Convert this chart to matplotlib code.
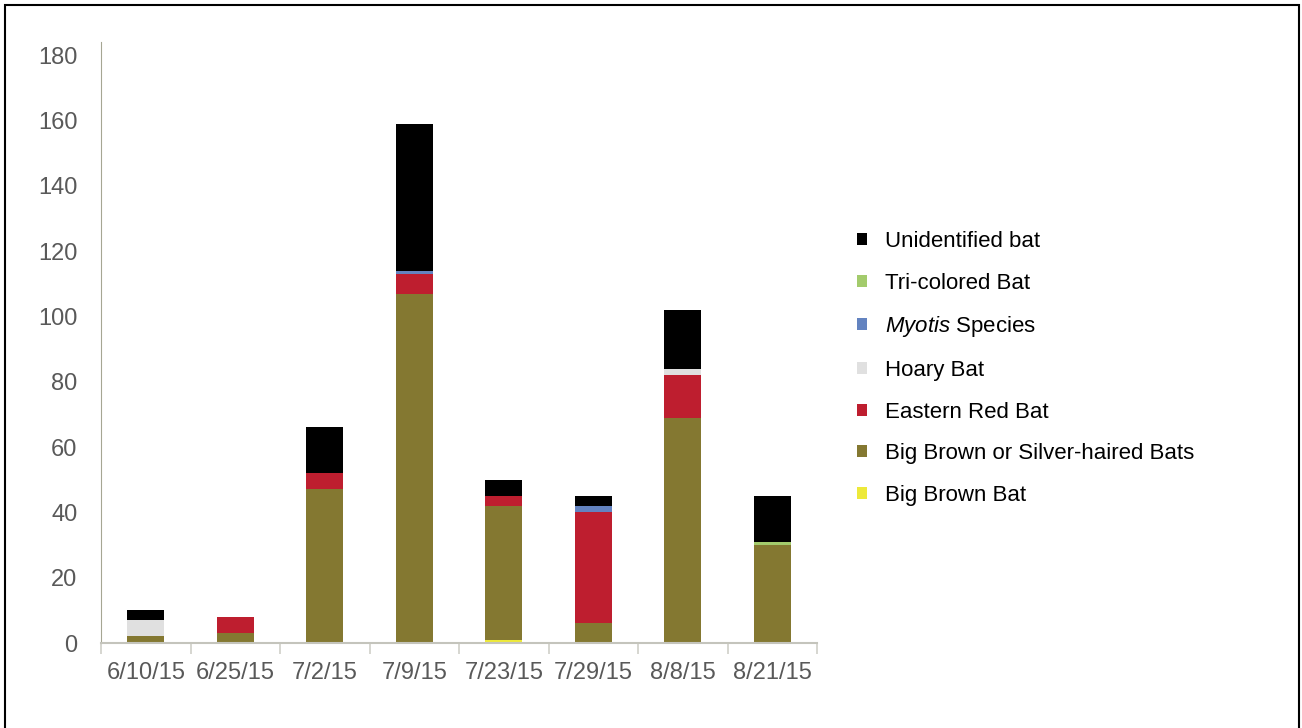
import matplotlib.pyplot as plt
import numpy as np
from matplotlib.patches import Rectangle

plt.rcParams['font.family'] = ['Liberation Sans', 'DejaVu Sans']
plt.rcParams['mathtext.fontset'] = 'custom'
plt.rcParams['mathtext.it'] = 'Liberation Sans:italic'
plt.rcParams['mathtext.rm'] = 'Liberation Sans'

# Survey dates
dates = ['6/10/15', '6/25/15', '7/2/15', '7/9/15', '7/23/15', '7/29/15', '8/8/15', '8/21/15']

# Bat passes per species (stacked bottom -> top)
big_brown = [0, 0, 0, 0, 1, 0, 0, 0]
big_brown_silver = [2, 3, 47, 107, 41, 6, 69, 30]
eastern_red = [0, 5, 5, 6, 3, 34, 13, 0]
hoary = [5, 0, 0, 0, 0, 0, 2, 0]
myotis = [0, 0, 0, 1, 0, 2, 0, 0]
tri_colored = [0, 0, 0, 0, 0, 0, 0, 1]
unidentified = [3, 0, 14, 45, 5, 3, 18, 14]

series = [
    (big_brown, 'Big Brown Bat', '#ede93a'),
    (big_brown_silver, 'Big Brown or Silver-haired Bats', '#847831'),
    (eastern_red, 'Eastern Red Bat', '#be1e2f'),
    (hoary, 'Hoary Bat', '#e0e0e0'),
    (myotis, r'$\mathit{Myotis}$ Species', '#6383c0'),
    (tri_colored, 'Tri-colored Bat', '#a3cb6c'),
    (unidentified, 'Unidentified bat', '#000000'),
]

fig = plt.figure(figsize=(13.02, 7.28), dpi=100)
ax = fig.add_axes([101/1302, 1 - 643/728, (817 - 101)/1302, (643 - 42)/728])

x = np.arange(len(dates))
bottom = np.zeros(len(dates))
handles = []
for vals, name, col in series:
    b = ax.bar(x, vals, width=0.41, bottom=bottom, color=col, label=name, linewidth=0)
    handles.append(b)
    bottom += np.array(vals)

ax.set_xlim(-0.5, len(dates) - 0.5)
ax.set_ylim(0, 184)
ax.set_yticks(np.arange(0, 181, 20))
ax.set_xticks(x)
ax.set_xticklabels(dates)
ax.set_xticks(np.arange(-0.5, len(dates)), minor=True)
ax.tick_params(axis='x', which='major', length=0, pad=14, labelsize=17, labelcolor='#595959')
ax.tick_params(axis='x', which='minor', length=8, width=1.2, color='#d0d0c8', direction='out')
ax.tick_params(axis='y', length=0, pad=17, labelsize=17, labelcolor='#595959')

for s in ['top', 'right']:
    ax.spines[s].set_visible(False)
ax.spines['left'].set_color('#a6a693')
ax.spines['bottom'].set_color('#c4c4bc')
ax.spines['bottom'].set_linewidth(1.5)

leg = fig.legend(handles[::-1], [h.get_label() for h in handles[::-1]],
                 loc='upper left', bbox_to_anchor=(837/1302, 1 - 211/728),
                 frameon=False, handlelength=0.45, handleheight=0.45,
                 handletextpad=0.8, labelspacing=0.93,
                 prop={'family': ['Liberation Sans', 'DejaVu Sans'], 'size': 16})

# border around the whole picture
fig.patches.append(Rectangle((5/1302, -0.02), (1299 - 5)/1302, 1.02 - 5/728,
                             transform=fig.transFigure, fill=False,
                             edgecolor='black', linewidth=1.5))

fig.savefig('out.png', dpi=100)
